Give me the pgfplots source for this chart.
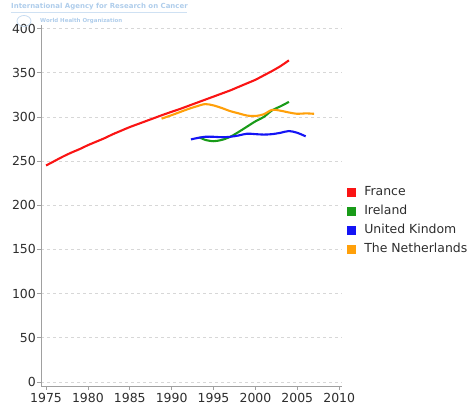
\documentclass[border=0pt]{standalone}
\usepackage{fontspec}
\setmainfont{DejaVu Sans}
\usepackage{pgfplots}
\pgfplotsset{compat=1.18}
\definecolor{cfr}{RGB}{250,20,20}
\definecolor{cie}{RGB}{25,155,25}
\definecolor{cuk}{RGB}{20,20,245}
\definecolor{cnl}{RGB}{255,160,10}
\definecolor{ctick}{RGB}{45,45,45}
\definecolor{caxis}{RGB}{160,160,160}
\definecolor{cgrid}{RGB}{215,215,215}
\definecolor{clogo}{RGB}{175,205,235}
\begin{document}
\begin{tikzpicture}
\begin{axis}[
  at={(0,0)}, anchor=south west, scale only axis,
  width=300.7bp, height=361bp,
  xmin=1974.4, xmax=2010.3, ymin=-4.5, ymax=404,
  xtick={1975,1980,...,2010}, ytick={0,50,...,400},
  axis x line*=bottom, axis y line*=left,
  axis line style={draw=caxis, line width=0.8bp, -},
  tick align=outside, major tick length=4bp,
  tick style={draw=caxis, line width=0.8bp},
  ymajorgrids, grid style={draw=cgrid, line width=0.7bp, dash pattern=on 3bp off 3bp},
  /pgf/number format/assume math mode=true,
  /pgf/number format/1000 sep={},
  ticklabel style={font=\fontsize{12.5}{14}\selectfont, text=ctick},
  yticklabel style={inner xsep=1bp},
  xticklabel style={inner ysep=3bp},
  legend style={at={(1.0077,0.568)}, anchor=north west, draw=none, fill=none,
    font=\fontsize{12.5}{14}\selectfont, text=ctick,
    nodes={inner ysep=3.75bp, inner xsep=2bp, text height=9bp, text depth=2.5bp}},
  legend cell align=left,
  legend image code/.code={\fill[#1] (0bp,-3.5bp) rectangle (7bp,3.5bp); \path (13bp,0bp);},
  every axis plot/.append style={line width=2.1bp, smooth, tension=0.5},
]
\addplot[cfr] coordinates {
(1975,245) (1976,250) (1977,255) (1978,259.5) (1979,263.5) (1980,268)
(1981,272) (1982,276) (1983,280.5) (1984,284.5) (1985,288.5) (1986,292)
(1987,295.5) (1988,299) (1989,302.5) (1990,305.8) (1991,309) (1992,312.5)
(1993,316) (1994,319.5) (1995,323) (1996,326.5) (1997,330) (1998,334)
(1999,338) (2000,342) (2001,347) (2002,352) (2003,357.5) (2004,364)};
\addlegendentry{France}
\addplot[cie] coordinates {
(1993.3,277) (1994,274) (1995,272.5) (1996,274) (1997,277.5) (1998,283)
(1999,289) (2000,295) (2001,300) (2002,307.5) (2003,312) (2004,317)};
\addlegendentry{Ireland}
\addplot[cuk] coordinates {
(1992.3,274.5) (1993,276) (1994,277.5) (1995,277.5) (1996,277) (1997,277.5)
(1998,279) (1999,281) (2000,280.5) (2001,280) (2002,280.5) (2003,282)
(2004,284) (2005,282) (2006,278)};
\addlegendentry{United Kindom}
\addplot[cnl] coordinates {
(1988.8,298) (1990,302) (1991,305.5) (1992,309) (1993,312) (1994,314.5)
(1995,313) (1996,310) (1997,306.5) (1998,304) (1999,301.5) (2000,301)
(2001,303) (2002,308) (2003,307) (2004,305) (2005,303.5) (2006,304) (2007,303.5)};
\addlegendentry{The Netherlands}
\end{axis}
\node[anchor=west, inner sep=0pt, text=clogo, font=\bfseries\fontsize{7}{8}\selectfont] at (-30bp,379.5bp) {International Agency for Research on Cancer};
\draw[clogo!60, line width=0.5bp] (-30bp,374bp) -- (146bp,374bp);
\draw[clogo!70, line width=0.8bp] (-17bp,365bp) ellipse (7bp and 5.5bp);
\node[anchor=west, inner sep=0pt, text=clogo, font=\bfseries\fontsize{5.5}{6}\selectfont] at (-1bp,365bp) {World Health Organization};
\pgfresetboundingbox
\path[use as bounding box] (-41bp,-22bp) rectangle (428bp,386bp);
\end{tikzpicture}
\end{document}
